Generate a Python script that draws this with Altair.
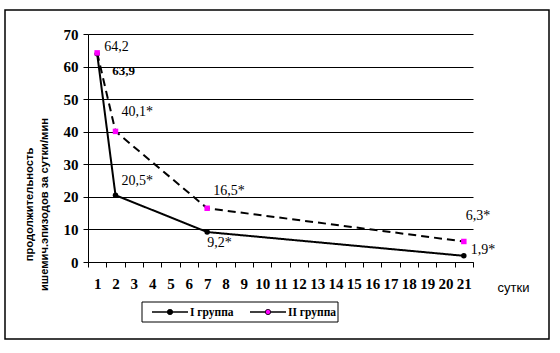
import altair as alt
import pandas as pd

# ---- data ----
days_all = [str(d) for d in range(1, 22)]
days = ["1", "2", "7", "21"]
group1 = [63.9, 20.5, 9.2, 1.9]
group2 = [64.2, 40.1, 16.5, 6.3]
labels1 = ["63,9", "20,5*", "9,2*", "1,9*"]
labels2 = ["64,2", "40,1*", "16,5*", "6,3*"]
series = ["I группа", "II группа"]
series_colors = ["black", "#ff00ff"]

rows = []
for i, d in enumerate(days):
    rows.append({"day": d, "value": group1[i], "series": series[0], "label": labels1[i], "idx": i})
for i, d in enumerate(days):
    rows.append({"day": d, "value": group2[i], "series": series[1], "label": labels2[i], "idx": i})
df = pd.DataFrame(rows)

W, H = 385, 228
serif = "Liberation Serif"
sans = "Liberation Sans"

x_enc = alt.X("day:O", sort=days_all,
              scale=alt.Scale(type="band", domain=days_all, paddingInner=0, paddingOuter=0),
              axis=alt.Axis(title="сутки", labelAngle=0, labelFont=serif, labelFontWeight="bold",
                            labelFontSize=15, labelColor="black", labelOverlap=False,
                            labelPadding=9, tickBand="extent", tickSize=5, tickColor="black",
                            domainColor="black", titleFont=sans, titleFontSize=13,
                            titleFontWeight="normal", titleColor="black",
                            titleX=425, titleY=25, titleAlign="center", titleBaseline="middle"))
y_enc = alt.Y("value:Q",
              scale=alt.Scale(domain=[0, 70], nice=False, zero=True),
              axis=alt.Axis(values=list(range(0, 71, 10)), title=["продолжительность",
                                                                   "ишемич.эпизодов за сутки/мин"],
                            labelFont=serif, labelFontWeight="bold", labelFontSize=15,
                            labelColor="black", labelPadding=5, tickSize=5, tickColor="black",
                            domainColor="black", grid=True, gridColor="black", gridOpacity=1,
                            titleFont=sans, titleFontSize=11.2, titleFontWeight="bold",
                            titleColor="black", titleAngle=-90, titleLineHeight=15,
                            titleX=-54, titleY=170, titleAlign="center", titleBaseline="bottom"))

base = alt.Chart(df)

lines = base.mark_line(color="black", strokeWidth=2).encode(
    x=x_enc, y=y_enc,
    detail="series:N",
    strokeDash=alt.StrokeDash("series:N", scale=alt.Scale(domain=series, range=[[1, 0], [8, 5]]),
                              legend=None),
    order="idx:Q",
)

points = base.mark_point(filled=True, opacity=1, size=30).encode(
    x=x_enc, y=y_enc,
    color=alt.Color("series:N", scale=alt.Scale(domain=series, range=series_colors), legend=None),
    shape=alt.Shape("series:N", scale=alt.Scale(domain=series, range=["circle", "square"]),
                    legend=None),
)

# label offsets (styling) for each series/point index
offsets = {
    (series[0], 0): (15, 17, "bold", 13),
    (series[0], 1): (6, -14, "normal", 14),
    (series[0], 2): (0, 11, "normal", 14),
    (series[0], 3): (7, -6, "normal", 14),
    (series[1], 0): (7, -6, "normal", 14),
    (series[1], 1): (6, -19, "normal", 14),
    (series[1], 2): (6, -17, "normal", 14),
    (series[1], 3): (2, -25, "normal", 14),
}
texts = []
for (s, i), (dx, dy, fw, fs) in offsets.items():
    texts.append(
        base.mark_text(align="left", baseline="middle", dx=dx, dy=dy, font=serif,
                       fontSize=fs, fontWeight=fw, color="black")
        .encode(x=x_enc, y=y_enc, text="label:N")
        .transform_filter((alt.datum.series == s) & (alt.datum.idx == i))
    )

one = alt.Data(values=[{}])
frame = alt.Chart(one).mark_rect(fill=None, stroke="black", strokeWidth=1.5).encode(
    x=alt.value(-83), x2=alt.value(461), y=alt.value(-24), y2=alt.value(305)
)

# ---- legend box (decoration) ----
leg_df = pd.DataFrame({"series": series, "color": series_colors})
legend_layers = [
    alt.Chart(one).mark_rect(fill="white", stroke="black", strokeWidth=1).encode(
        x=alt.value(54), x2=alt.value(250), y=alt.value(268), y2=alt.value(288))
]
leg_x0 = [64, 162]
for k, s in enumerate(series):
    ld = alt.Chart(leg_df).transform_filter(alt.datum.series == s)
    x0 = leg_x0[k]
    legend_layers.append(ld.mark_rule(color="black", strokeWidth=1.5).encode(
        x=alt.value(x0), x2=alt.value(x0 + 36), y=alt.value(278)))
    legend_layers.append(ld.mark_point(filled=True, opacity=1, size=28, shape="circle",
                                       stroke="black", strokeWidth=0.8).encode(
        x=alt.value(x0 + 18), y=alt.value(278),
        fill=alt.Fill("color:N", scale=None)))
    legend_layers.append(ld.mark_text(align="left", baseline="middle", font=serif, fontSize=11.5,
                                      fontWeight="bold", color="black").encode(
        x=alt.value(x0 + 38), y=alt.value(278.5), text="series:N"))

chart = alt.layer(frame, lines, points, *texts, *legend_layers).properties(
    width=W, height=H,
    padding={"left": 88, "top": 34, "right": 87, "bottom": 91},
    autosize=alt.AutoSizeParams(type="none"),
    background="white",
).configure_view(stroke=None)

chart.save("out.html", embed_options={"renderer": "svg", "actions": False})
